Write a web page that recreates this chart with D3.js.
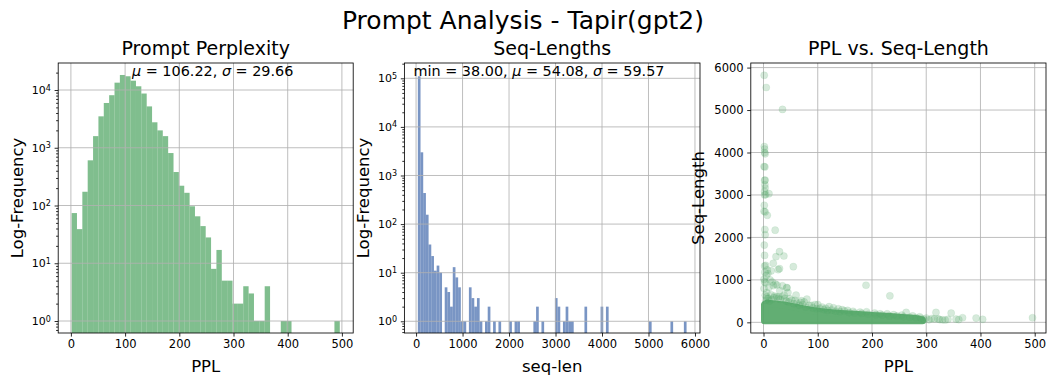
<!DOCTYPE html>
<html>
<head>
<meta charset="utf-8">
<script src="https://cdn.jsdelivr.net/npm/d3@7"></script>
<style>
  body { margin: 0; background: #fff; }
  text { font-family: "DejaVu Sans", sans-serif; fill: #000; }
</style>
</head>
<body>
<svg id="chart" width="1047" height="375"></svg>
<script>
// ---- data -------------------------------------------------------------
// Prompt perplexity histogram: 50 equal bins over pplRange
const pplRange = [1.3, 496.1];
const pplBinCounts = [
  74, 39, 173, 606, 1590, 3500, 5960, 8130, 13400, 18200,
  17300, 14500, 11600, 8690, 5200, 2760, 2000, 1590, 810, 380,
  220, 166, 97, 65, 44, 28, 8, 17, 5, 5,
  2, 2, 4, 3, 1, 1, 4, 0, 0, 1,
  1, 0, 0, 0, 0, 0, 0, 0, 0, 1
];

// Sequence length histogram: 100 equal bins over seqRange
const seqRange = [38, 5819];
const seqBinCounts = [
  110000, 3000, 436, 156, 38, 22, 11, 14, 10, 0,
  5, 4, 2, 13, 8, 5, 1, 1, 0, 5,
  3, 2, 3, 1, 0, 1, 2, 0, 1, 0,
  1, 0, 0, 0, 1, 0, 1, 1, 0, 0,
  0, 0, 0, 1, 2, 0, 1, 0, 0, 0,
  0, 3, 2, 0, 1, 2, 1, 1, 0, 0,
  0, 0, 2, 0, 0, 0, 0, 0, 2, 0,
  2, 0, 0, 0, 0, 0, 0, 0, 0, 0,
  0, 0, 0, 0, 0, 0, 1, 0, 0, 0,
  0, 0, 0, 0, 1, 0, 0, 0, 0, 1
];

// Summary statistics shown in the panels
const pplStats = { mean: "106.22", std: "29.66" };
const seqStats = { min: "38.00", mean: "54.08", std: "59.57" };

// Tick values
const pplTicks = [0, 100, 200, 300, 400, 500];
const seqTicks = [0, 1000, 2000, 3000, 4000, 5000, 6000];
const pplLogTicks = [1, 10, 100, 1000, 10000];
const seqLogTicks = [1, 10, 100, 1000, 10000, 100000];

// Scatter: upper envelope of the saturated core of prompts (ppl, seq-len)
const coreBandPPL = [2, 6, 12, 22, 35, 50, 65, 80, 100, 125, 150, 175, 200, 225, 250, 270, 285, 293];
const coreBandSeq = [420, 450, 440, 430, 410, 380, 340, 300, 260, 225, 200, 180, 160, 140, 120, 100, 80, 55];
const coreBandFloor = 38;

// Scatter: individual prompts outside the core (ppl, seq-len)
const scatterPPL = [
  1.3, 5, 35, 1.5, 2, 2, 3, 1, 2.5, 2, 3, 2.5, 3, 2, 10, 2, 4, 1.5, 1, 3, 7, 2.5, 21.5, 3, 1.5,
  29.5, 23, 37.5, 18, 55, 2, 2, 4, 7, 29.5, 27, 14, 2.5, 1, 2, 4, 43, 43, 189, 233, 1, 18, 22,
  5, 8, 12, 16, 25, 35, 30, 10, 6, 45, 60, 80, 70, 100, 3, 6, 9, 14,
  20, 28, 38, 48, 58, 68, 75, 88, 95, 108, 115, 121, 129, 138, 145, 155, 165, 178, 190, 205, 215,
  228, 240, 255, 263, 275, 288, 300, 310, 318, 322, 330, 340, 346, 355, 360, 367, 392, 404, 496,
  4, 7, 11, 15, 19, 24, 27, 31, 34, 39, 42, 46, 52, 56, 61, 66, 72, 78, 84, 91, 98, 104,
  111, 118, 126, 133, 141, 149, 158, 168, 181, 193, 207, 219, 232, 246, 258, 270, 281, 290,
  296, 305, 315, 325, 335
];
const scatterSeq = [
  5819, 5531, 5015, 4139, 4080, 3998, 3970, 3670, 3660, 3342, 3350, 3241, 3164, 3084, 3030, 3000, 3010, 2757, 2616, 2600, 2522, 2187, 2171, 2062, 1819,
  1664, 1547, 1562, 1390, 1312, 1577, 1327, 1340, 1234, 1265, 1240, 1210, 1182, 1015, 953, 930, 820, 812, 874, 624, 797, 867, 900,
  1100, 1150, 1000, 950, 880, 860, 750, 820, 700, 700, 640, 546, 510, 420, 640, 600, 560, 650,
  620, 600, 640, 560, 520, 470, 480, 400, 420, 360, 330, 370, 343, 320, 300, 280, 260, 240, 250, 220, 200,
  200, 180, 170, 234, 150, 130, 100, 90, 234, 80, 60, 70, 218, 75, 65, 108, 101, 70, 108,
  520, 560, 500, 540, 580, 600, 560, 540, 600, 560, 500, 480, 520, 440, 460, 400, 420, 360, 400, 340, 320, 330,
  300, 280, 290, 260, 250, 270, 230, 220, 210, 190, 180, 170, 150, 150, 130, 120, 110, 95,
  70, 60, 80, 65, 55
];

// ---- layout -----------------------------------------------------------
const svg = d3.select("#chart");
const plotTop = 63, plotBottom = 333;
const panels = [
  { left: 58.2, right: 353.2 },
  { left: 404.4, right: 700 },
  { left: 750.8, right: 1046 }
];
const green = "#55a868", blue = "#4c72b0";
const gridColor = "#b0b0b0";
const tickFont = 11.5;

svg.append("text")
  .attr("x", 523).attr("y", 29)
  .attr("text-anchor", "middle")
  .style("font-size", "25px")
  .text("Prompt Analysis - Tapir(gpt2)");

function padded([a, b]) { const m = (b - a) * 0.05; return [a - m, b + m]; }

function clipFor(id, p) {
  svg.append("clipPath").attr("id", id)
    .append("rect").attr("x", p.left).attr("y", plotTop)
    .attr("width", p.right - p.left).attr("height", plotBottom - plotTop);
  return `url(#${id})`;
}

function styleAxis(g) {
  g.select(".domain").remove();
  g.selectAll(".tick line").attr("stroke", "#000").attr("stroke-width", 0.83);
  g.selectAll(".tick text").style("font-size", tickFont + "px").attr("fill", "#000");
}

function drawFrame(p) {
  svg.append("rect")
    .attr("x", p.left).attr("y", plotTop)
    .attr("width", p.right - p.left).attr("height", plotBottom - plotTop)
    .attr("fill", "none").attr("stroke", "#000").attr("stroke-width", 0.83);
}

function gridLines(x, y, xt, yt, p) {
  const g = svg.append("g").attr("stroke", gridColor).attr("stroke-width", 0.83);
  g.selectAll(".gx").data(xt).join("line")
    .attr("x1", d => x(d)).attr("x2", d => x(d))
    .attr("y1", plotTop).attr("y2", plotBottom);
  g.selectAll(".gy").data(yt).join("line")
    .attr("x1", p.left).attr("x2", p.right)
    .attr("y1", d => y(d)).attr("y2", d => y(d));
}

function titles(p, title, xlab, ylab, ylabX) {
  const cx = (p.left + p.right) / 2;
  svg.append("text").attr("x", cx).attr("y", 55)
    .attr("text-anchor", "middle").style("font-size", "19px").text(title);
  svg.append("text").attr("x", cx).attr("y", 372)
    .attr("text-anchor", "middle").style("font-size", "16.5px").text(xlab);
  svg.append("text")
    .attr("transform", `translate(${ylabX},${(plotTop + plotBottom) / 2}) rotate(-90)`)
    .attr("text-anchor", "middle").attr("dy", "0.35em")
    .style("font-size", "16.5px").text(ylab);
}

function logAxis(y, p, majors) {
  const [lo, hi] = y.domain();
  const minors = [];
  for (let e = Math.floor(Math.log10(lo)); e <= Math.ceil(Math.log10(hi)); e++) {
    for (let k = 2; k <= 9; k++) {
      const v = k * Math.pow(10, e);
      if (v >= lo && v <= hi) minors.push(v);
    }
  }
  const g = svg.append("g").attr("transform", `translate(${p.left},0)`);
  g.call(d3.axisLeft(y).tickValues(minors).tickSize(2.1).tickFormat(""));
  styleAxis(g);
  const g2 = svg.append("g").attr("transform", `translate(${p.left},0)`);
  g2.call(d3.axisLeft(y).tickValues(majors).tickSize(3.6).tickFormat(""));
  styleAxis(g2);
  const lab = svg.append("g");
  majors.forEach(v => {
    const t = lab.append("text")
      .attr("x", p.left - 7.4).attr("y", y(v)).attr("dy", "0.38em")
      .attr("text-anchor", "end").style("font-size", "11px");
    t.append("tspan").text("10");
    t.append("tspan").attr("dy", "-0.45em").style("font-size", "8px")
      .text(String(Math.round(Math.log10(v))));
  });
}

function histogram(p, range, counts, color, yDomain, xTicks, logTicks, clipId) {
  const x = d3.scaleLinear().domain(padded(range)).range([p.left, p.right]);
  const y = d3.scaleLog().domain(yDomain).range([plotBottom, plotTop]);
  const w = (range[1] - range[0]) / counts.length;
  const bins = counts.map((c, i) => ({ x0: range[0] + i * w, x1: range[0] + (i + 1) * w, c }))
    .filter(d => d.c > 0);

  svg.append("g").attr("clip-path", clipFor(clipId, p))
    .selectAll("rect").data(bins).join("rect")
    .attr("x", d => x(d.x0)).attr("width", d => x(d.x1) - x(d.x0))
    .attr("y", d => y(d.c)).attr("height", d => plotBottom - y(d.c))
    .attr("fill", color).attr("fill-opacity", 0.75);

  gridLines(x, y, xTicks, logTicks, p);
  drawFrame(p);

  const gx = svg.append("g").attr("transform", `translate(0,${plotBottom})`)
    .call(d3.axisBottom(x).tickValues(xTicks).tickSize(3.6).tickPadding(3.6).tickFormat(d3.format("d")));
  styleAxis(gx);
  logAxis(y, p, logTicks);
  return { x, y };
}

// ---- panel 1: prompt perplexity ---------------------------------------
const p1 = panels[0];
histogram(p1, pplRange, pplBinCounts, green, [0.62, 29350], pplTicks, pplLogTicks, "clip1");
titles(p1, "Prompt Perplexity", "PPL", "Log-Frequency", 17);
{
  const t = svg.append("text").attr("x", 132).attr("y", 76).style("font-size", "14.4px");
  t.append("tspan").style("font-style", "italic").text("μ");
  t.append("tspan").text(` = ${pplStats.mean},  `);
  t.append("tspan").style("font-style", "italic").text("σ");
  t.append("tspan").text(` = ${pplStats.std}`);
}

// ---- panel 2: sequence lengths ----------------------------------------
const p2 = panels[1];
histogram(p2, seqRange, seqBinCounts, blue, [0.574, 206500], seqTicks, seqLogTicks, "clip2");
titles(p2, "Seq-Lengths", "seq-len", "Log-Frequency", 363);
{
  const t = svg.append("text").attr("x", 413.5).attr("y", 76).style("font-size", "14.4px");
  t.append("tspan").text(`min = ${seqStats.min},  `);
  t.append("tspan").style("font-style", "italic").text("μ");
  t.append("tspan").text(` = ${seqStats.mean},  `);
  t.append("tspan").style("font-style", "italic").text("σ");
  t.append("tspan").text(` = ${seqStats.std}`);
}

// ---- panel 3: PPL vs sequence length ----------------------------------
const p3 = panels[2];
{
  const x = d3.scaleLinear().domain(padded(pplRange)).range([p3.left, p3.right]);
  const y = d3.scaleLinear().domain(padded(seqRange)).range([plotBottom, plotTop]);
  const clip = clipFor("clip3", p3);
  const r = 3.6;

  gridLines(x, y, pplTicks, seqTicks, p3);

  const plot = svg.append("g").attr("clip-path", clip);

  // dense core drawn as a filled band, outlined by one marker radius
  const band = coreBandPPL.map((v, i) => ({ ppl: v, seq: coreBandSeq[i] }));
  const area = d3.area()
    .x(d => x(d.ppl)).y0(y(coreBandFloor)).y1(d => y(d.seq))
    .curve(d3.curveCatmullRom);
  plot.append("g").attr("opacity", 0.92)
    .append("path").attr("d", area(band))
    .attr("fill", green).attr("stroke", green)
    .attr("stroke-width", 2 * r).attr("stroke-linejoin", "round");

  const pts = scatterPPL.map((v, i) => ({ ppl: v, seq: scatterSeq[i] }));
  plot.append("g").selectAll("circle").data(pts).join("circle")
    .attr("cx", d => x(d.ppl)).attr("cy", d => y(d.seq)).attr("r", r)
    .attr("fill", green).attr("fill-opacity", 0.24)
    .attr("stroke", green).attr("stroke-opacity", 0.12).attr("stroke-width", 0.8);

  drawFrame(p3);
  const gx = svg.append("g").attr("transform", `translate(0,${plotBottom})`)
    .call(d3.axisBottom(x).tickValues(pplTicks).tickSize(3.6).tickPadding(3.6).tickFormat(d3.format("d")));
  styleAxis(gx);
  const gy = svg.append("g").attr("transform", `translate(${p3.left},0)`)
    .call(d3.axisLeft(y).tickValues(seqTicks).tickSize(3.6).tickPadding(3.6).tickFormat(d3.format("d")));
  styleAxis(gy);
  titles(p3, "PPL vs. Seq-Length", "PPL", "Seq-Length", 698);
}
</script>
</body>
</html>
